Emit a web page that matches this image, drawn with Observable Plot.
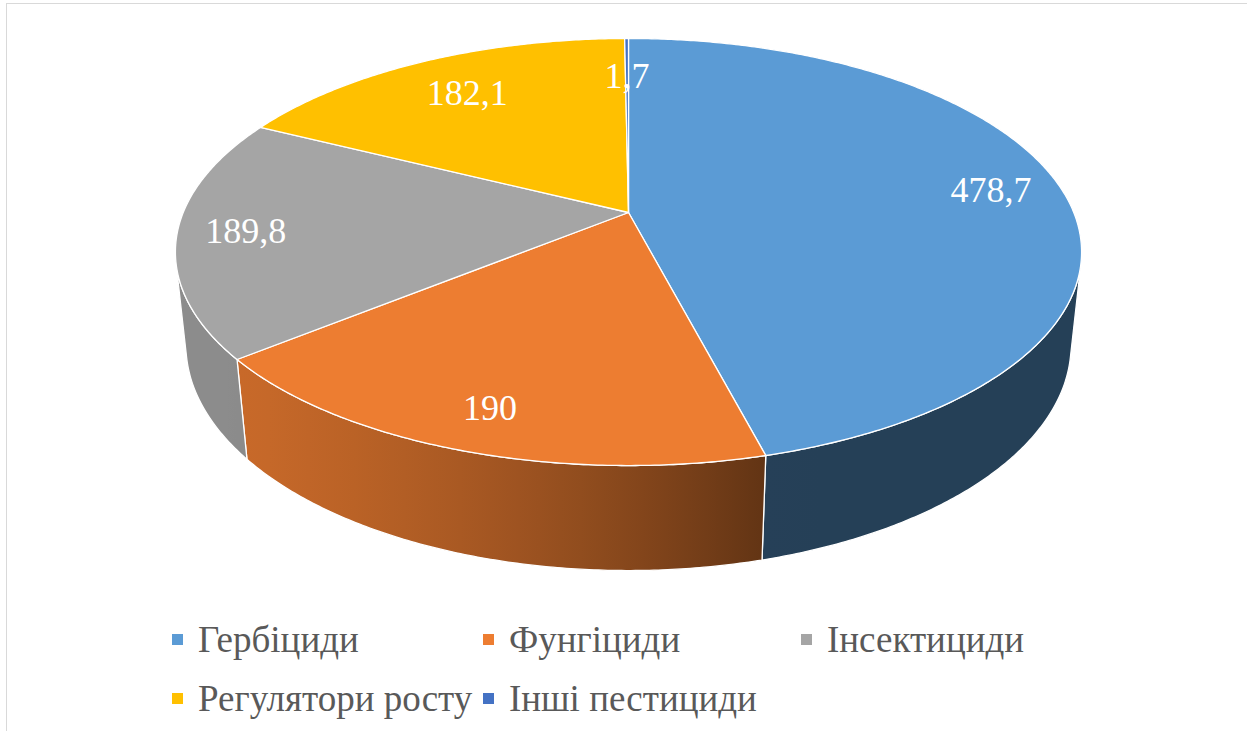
<!DOCTYPE html>
<html><head><meta charset="utf-8">
<script src="https://cdn.jsdelivr.net/npm/d3@7"></script>
<script src="https://cdn.jsdelivr.net/npm/@observablehq/plot@0.6"></script>
<style>
html,body{margin:0;padding:0;background:#fff;overflow:hidden;width:1247px;height:731px;}
#frame{position:absolute;left:6px;top:3px;width:1400px;height:900px;border:1.5px solid #d9d9d9;box-sizing:border-box;pointer-events:none;}
#chart{position:absolute;left:0;top:0;}
#legend{position:absolute;left:0;top:610px;display:grid;grid-template-columns:311px 318px auto;padding-left:172px;font-size:37px;color:#595959;}
.item{display:flex;align-items:center;height:59px;white-space:nowrap;}
.sw{width:11px;height:11px;margin-right:15px;flex:none;}
</style></head><body>
<div id="chart"></div><div id="legend" style="font-family:'Liberation Serif'"></div><div id="frame"></div>
<script>
const categories = ["Гербіциди", "Фунгіциди", "Інсектициди", "Регулятори росту", "Інші пестициди"];
const values = [478.7, 190, 189.8, 182.1, 1.7];
const colors = ["#5b9bd5", "#ed7d31", "#a5a5a5", "#ffc000", "#4472c4"];

const total = d3.sum(values);
let acc = 0;
const slices = values.map((v, i) => {
  const a0 = acc / total * 360; acc += v; const a1 = acc / total * 360;
  return {i, name: categories[i], value: v, color: colors[i], a0, a1};
});

const rad = Math.PI / 180;
const view = {cx: 628, cy: 212, f: 2132.8, dist: 4.790, phi: 27.59 * rad, h: 0.2377};
const sphi = Math.sin(view.phi), cphi = Math.cos(view.phi);
function project(theta, r = 1, z = 0) {
  const X = r * Math.sin(theta * rad), Y = -r * Math.cos(theta * rad);
  const d = view.dist - Y * cphi - z * sphi;
  return [view.cx + view.f * X / d, view.cy + view.f * (Y * sphi - z * cphi) / d];
}
function arc(a0, a1, z) {
  const n = Math.max(2, Math.ceil(Math.abs(a1 - a0) / 0.5));
  return d3.range(n + 1).map(k => project(a0 + (a1 - a0) * k / n, 1, z));
}
const vis0 = Math.acos(-1 / (view.dist * cphi)) / rad, vis1 = 360 - vis0;

function bright(t) {
  if (t <= 165) return 0.41;
  if (t >= 240) return 0.85;
  const u = (t - 165) / 75;
  return 0.41 + 0.44 * (1 - (1 - u) * (1 - u));
}
function shade(c, b) { const k = d3.rgb(c); return d3.rgb(k.r * b, k.g * b, k.b * b).formatHex(); }

const topRows = [], sideRows = [], gradients = [];
const apex = project(0, 0, 0);
for (const s of slices) {
  const pts = [apex, ...arc(s.a0, s.a1, 0), apex];
  pts.forEach(p => topRows.push({id: "t" + s.i, fill: s.color, x: p[0], y: p[1]}));
  const s0 = Math.max(s.a0, vis0), s1 = Math.min(s.a1, vis1);
  if (s1 > s0) {
    const top = arc(s0, s1, 0), bot = arc(s1, s0, -view.h);
    const poly = [...top, ...bot, top[0]];
    poly.forEach(p => sideRows.push({id: "s" + s.i, fill: `url(#side${s.i})`, x: p[0], y: p[1]}));
    const x1 = project(s0)[0], x2 = project(s1)[0];
    const stops = d3.range(11).map(k => {
      const t = s0 + (s1 - s0) * k / 10;
      return {offset: (project(t)[0] - x1) / (x2 - x1), color: shade(s.color, bright(t))};
    });
    gradients.push({id: "side" + s.i, x1, x2, stops});
  }
}
const labelRows = slices.map(s => {
  const m = (s.a0 + s.a1) / 2, Y = -Math.cos(m * rad);
  const r = 0.85 - 0.1 * Math.max(0, -Y);
  const p = project(m, r, 0);
  return {x: p[0], y: p[1], label: String(s.value).replace(".", ",")};
});

const plot = Plot.plot({
  width: 1247, height: 600, margin: 0,
  x: {domain: [0, 1247], range: [0, 1247], axis: null},
  y: {domain: [0, 600], range: [0, 600], axis: null},
  color: {type: "identity"},
  style: {background: "transparent"},
  marks: [
    Plot.line(sideRows, {x: "x", y: "y", z: "id", fill: "fill", stroke: "white", strokeWidth: 1.3, curve: "linear"}),
    Plot.line(topRows, {x: "x", y: "y", z: "id", fill: "fill", stroke: "white", strokeWidth: 1.3, curve: "linear"}),
    Plot.text(labelRows, {x: "x", y: "y", text: "label", fill: "white", fontSize: 36, fontFamily: "Liberation Serif", textAnchor: "middle", lineAnchor: "middle"})
  ]
});
const defs = d3.select(plot).insert("defs", ":first-child");
for (const g of gradients) {
  const lg = defs.append("linearGradient").attr("id", g.id).attr("gradientUnits", "userSpaceOnUse")
    .attr("x1", g.x1).attr("x2", g.x2).attr("y1", 0).attr("y2", 0);
  for (const st of g.stops) lg.append("stop").attr("offset", st.offset).attr("stop-color", st.color);
}
d3.select(plot).selectAll("text").style("font-family", "'Liberation Serif'");
document.getElementById("chart").appendChild(plot);

const legend = d3.select("#legend");
categories.forEach((c, i) => {
  const it = legend.append("div").attr("class", "item").style("font-family", "'Liberation Serif'");
  it.append("span").attr("class", "sw").style("background", colors[i]);
  it.append("span").text(c);
});
</script></body></html>
